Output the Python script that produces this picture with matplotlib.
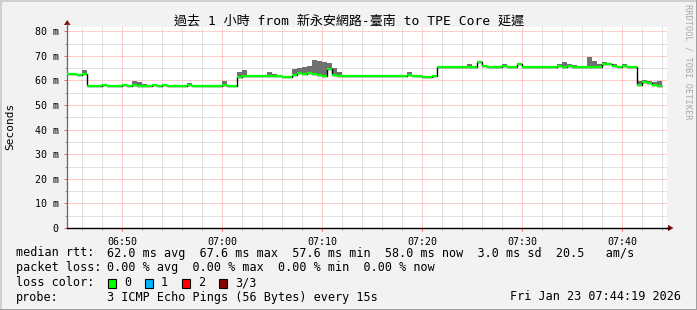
import matplotlib
matplotlib.use("Agg")
import matplotlib.pyplot as plt
from matplotlib.patches import Rectangle, Polygon
from matplotlib.lines import Line2D
import numpy as np

W, H = 697, 310

# ---------------- data ----------------
start_min = 44.5   # minutes after 06:00 -> 06:44:30
step_min = 0.5     # 30 s per drawn step
median_ms = [
    62.6, 62.6, 62.3, 62.8, 57.8, 57.8, 57.8, 58.0, 57.8, 57.8,
    57.8, 58.0, 57.8, 58.2, 57.9, 57.8, 57.8, 58.3, 57.8, 58.2,
    57.8, 57.8, 57.8, 57.8, 58.1, 57.8, 57.8, 57.6, 57.8, 57.8,
    57.6, 58.2, 57.8, 57.6, 61.5, 61.8, 61.8, 61.8, 61.8, 61.8,
    61.8, 61.6, 61.8, 61.4, 61.4, 62.0, 63.2, 62.6, 63.0, 62.4,
    62.0, 61.9, 64.6, 62.2, 61.9, 61.8, 61.7, 61.8, 61.8, 61.6,
    61.8, 61.9, 61.8, 61.8, 61.6, 61.8, 61.8, 61.8, 62.0, 61.8,
    61.8, 61.4, 61.4, 61.6, 65.4, 65.4, 65.4, 65.6, 65.4, 65.4,
    65.5, 65.6, 67.6, 65.8, 65.4, 65.4, 65.6, 66.0, 65.4, 65.6,
    66.8, 65.6, 65.4, 65.6, 65.4, 65.6, 65.6, 65.6, 65.8, 65.6,
    65.8, 65.6, 65.6, 65.6, 65.6, 65.6, 65.6, 66.6, 66.8, 66.0,
    65.6, 65.8, 65.6, 65.6, 58.0, 59.2, 59.0, 58.2, 57.9,
]
smoke_idx = [3, 13, 14, 15, 24, 28, 31, 34, 35, 40, 41, 45, 46, 47, 48, 49,
             50, 51, 52, 53, 54, 68, 75, 80, 82, 83, 87, 90, 98, 99, 100,
             101, 102, 104, 105, 106, 107, 108, 109, 111, 114, 115, 116, 117, 118]
smoke_top = [64.2, 59.8, 59.2, 58.5, 58.9, 58.2, 59.8, 63.5, 64.2, 63.3, 62.8, 64.8, 65.2, 65.5, 65.8, 68.3,
             67.9, 67.4, 67.0, 65.0, 63.5, 63.4, 65.9, 66.5, 67.6, 66.2, 66.5, 67.0, 66.8, 67.6, 66.8,
             66.4, 66.0, 69.6, 67.8, 66.8, 67.4, 67.0, 66.6, 66.5, 59.8, 60.2, 59.8, 59.2, 59.6]

xtick_pos = [50, 60, 70, 80, 90, 100]
xtick_labels = ["06:50", "07:00", "07:10", "07:20", "07:30", "07:40"]
ytick_pos = [0, 10, 20, 30, 40, 50, 60, 70, 80]
ytick_labels = ["0", "10 m", "20 m", "30 m", "40 m", "50 m", "60 m", "70 m", "80 m"]

title = "過去 1 小時 from 新永安網路-臺南 to TPE Core 延遲"
legend_rtt = "62.0 ms avg  67.6 ms max  57.6 ms min  58.0 ms now  3.0 ms sd  20.5   am/s"
legend_loss = "0.00 % avg  0.00 % max  0.00 % min  0.00 % now"
loss_labels = ["0", "1", "2", "3/3"]
loss_colors = ["#00ff00", "#00b4ff", "#ff0000", "#8b0000"]
probe_text = "3 ICMP Echo Pings (56 Bytes) every 15s"
date_text = "Fri Jan 23 07:44:19 2026"

# ---------------- figure ----------------
MONO = ["DejaVu Sans Mono", "Noto Sans CJK TC"]
plt.rcParams["font.family"] = MONO

fig = plt.figure(figsize=(W / 100, H / 100), dpi=100)
fig.patch.set_facecolor("#f2f2f2")

def fx(x):
    return x / W

def fy(y):
    return 1 - y / H

ax_left, ax_right, ax_top, ax_bottom = 67, 667, 27, 228
ax = fig.add_axes([fx(ax_left), fy(ax_bottom), (ax_right - ax_left) / W, (ax_bottom - ax_top) / H])
ax.set_facecolor("white")
ax.set_xlim(44.5, 104.5)
ax.set_ylim(0, (ax_bottom - ax_top) / 24.6 * 10)

n = len(median_ms)
starts = start_min + step_min * np.arange(n)
edges = start_min + step_min * np.arange(n + 1)
med = np.array(median_ms)

# smoke
s_idx = np.array(smoke_idx)
s_top = np.array(smoke_top)
s_bot = med[s_idx] - 0.3
ax.bar(starts[s_idx], s_top - s_bot, bottom=s_bot, width=step_min, align="edge",
       color="#707070", linewidth=0, zorder=3)

# median: black step + green segments
ax.stairs(med, edges, baseline=None, color="black", linewidth=1.0, zorder=4)
ax.hlines(med, starts, starts + step_min, color="#00ff00", linewidth=1.6, zorder=5)

# ticks and grid
ax.set_xticks(xtick_pos)
ax.set_xticklabels(xtick_labels)
ax.set_xticks([m for m in range(46, 105, 2) if m % 10 != 0], minor=True)
ax.set_yticks(ytick_pos)
ax.set_yticklabels(ytick_labels)
ax.set_yticks([5, 15, 25, 35, 45, 55, 65, 75], minor=True)
ax.tick_params(axis="both", which="major", labelsize=7.2, length=2.5, width=0.7,
               color="#ff6060", direction="out")
ax.tick_params(axis="both", which="minor", length=1.5, width=0.7, color="#999999", direction="out")
ax.tick_params(axis="x", which="major", pad=4, colors="black", color="#ff6060")
ax.tick_params(axis="y", which="major", pad=3.5, colors="black", color="#ff6060")
ax.set_axisbelow(True)
ax.grid(which="minor", color="#c4c4c4", linestyle=(0, (1, 1)), linewidth=0.72)
ax.grid(which="major", color="#ff9a9a", linestyle=(0, (1, 1)), linewidth=0.72)

for side in ("top", "right"):
    ax.spines[side].set_visible(False)
ax.spines["left"].set_color("#666666")
ax.spines["left"].set_linewidth(0.9)
ax.spines["bottom"].set_color("black")
ax.spines["bottom"].set_linewidth(1.0)

# axis extensions and arrows
fig.add_artist(Line2D([fx(67), fx(67)], [fy(ax_top), fy(24)], color="#666666", lw=0.9))
fig.add_artist(Line2D([fx(ax_right), fx(669)], [fy(228), fy(228)], color="black", lw=1.0))
arrow_col = "#7f1010"
fig.add_artist(Polygon([(fx(64), fy(25)), (fx(70.5), fy(25)), (fx(67.2), fy(20))],
                       closed=True, transform=fig.transFigure, color=arrow_col, lw=0))
fig.add_artist(Polygon([(fx(668), fy(224.8)), (fx(668), fy(231.2)), (fx(673.5), fy(228))],
                       closed=True, transform=fig.transFigure, color=arrow_col, lw=0))

# title and labels
fig.text(fx(349), fy(21), title, ha="center", va="center", fontsize=9.4, family=MONO, color="black")
fig.text(fx(10), fy(126), "Seconds", rotation=90, ha="center", va="center", fontsize=8, family=MONO)
fig.text(fx(688), fy(4), "RRDTOOL / TOBI OETIKER", rotation=270, ha="center", va="top",
         fontsize=6.2, family=MONO, color="#a8a8a8")

# legend rows
LS = 8.5
fig.text(fx(16), fy(253), "median rtt:", ha="left", va="center", fontsize=LS, family=MONO)
fig.text(fx(107), fy(253), legend_rtt, ha="left", va="center", fontsize=LS, family=MONO)
fig.text(fx(16), fy(268), "packet loss:", ha="left", va="center", fontsize=LS, family=MONO)
fig.text(fx(107), fy(268), legend_loss, ha="left", va="center", fontsize=LS, family=MONO)
fig.text(fx(16), fy(283), "loss color:", ha="left", va="center", fontsize=LS, family=MONO)
box_x = [108, 145, 182, 219]
for bx, lab, col in zip(box_x, loss_labels, loss_colors):
    fig.add_artist(Rectangle((fx(bx), fy(287.5)), 8 / W, 9 / H, transform=fig.transFigure,
                             facecolor=col, edgecolor="black", lw=0.8))
    fig.text(fx(bx + 16), fy(283), lab, ha="left", va="center", fontsize=LS, family=MONO)
fig.text(fx(16), fy(297), "probe:", ha="left", va="center", fontsize=LS, family=MONO)
fig.text(fx(107), fy(297), probe_text, ha="left", va="center", fontsize=LS, family=MONO)
fig.text(fx(681), fy(297), date_text, ha="right", va="center", fontsize=LS, family=MONO)

# frame shading
fig.add_artist(Line2D([0, 1], [fy(0.5), fy(0.5)], color="#cfcfcf", lw=1.4))
fig.add_artist(Line2D([fx(0.5), fx(0.5)], [0, 1], color="#cfcfcf", lw=1.4))
fig.add_artist(Line2D([0, 1], [fy(309.5), fy(309.5)], color="#9e9e9e", lw=1.4))
fig.add_artist(Line2D([fx(696.5), fx(696.5)], [0, 1], color="#9e9e9e", lw=1.4))

fig.savefig("out.png", dpi=100, facecolor=fig.get_facecolor())
